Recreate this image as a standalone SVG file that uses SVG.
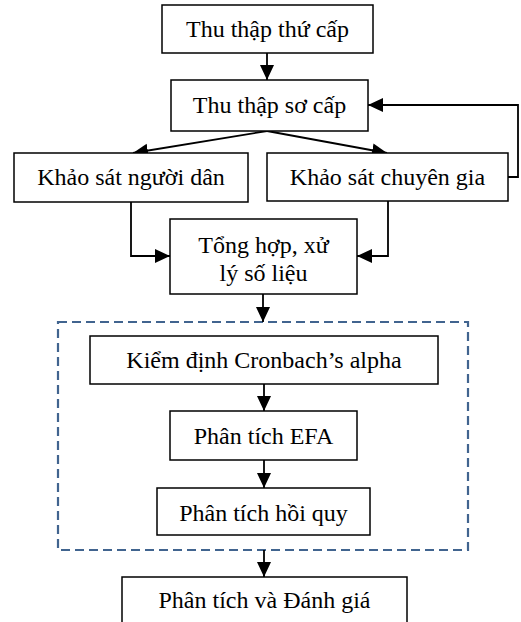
<svg xmlns="http://www.w3.org/2000/svg" width="521" height="622" viewBox="0 0 521 622">
<style>
.box{fill:#fff;stroke:#000;stroke-width:1.5}
.t{font-family:'Liberation Serif','Times New Roman',Times,serif;font-size:24px;fill:#000;text-anchor:middle}
.c{fill:none;stroke:#000;stroke-width:1.8}
.dash{fill:none;stroke:#41648F;stroke-width:2.2;stroke-dasharray:9 5}
</style>
<defs>
<marker id="ah" markerUnits="userSpaceOnUse" markerWidth="16" markerHeight="15" refX="15" refY="7" orient="auto">
<path d="M0,0 L15,7 L0,14 z" fill="#000"/>
</marker>
</defs>
<rect width="521" height="622" fill="#fff"/>
<g id="group-analysis"><rect class="dash" x="58" y="322" width="410" height="228"/></g>
<g id="connectors">
<line class="c" x1="267" y1="53" x2="267" y2="80" marker-end="url(#ah)"/>
<line class="c" x1="267" y1="131" x2="133" y2="153" marker-end="url(#ah)"/>
<line class="c" x1="267" y1="131" x2="387" y2="153" marker-end="url(#ah)"/>
<polyline class="c" points="508,177 518,177 518,105 368,105" marker-end="url(#ah)"/>
<polyline class="c" points="131,202 131,256 170,256" marker-end="url(#ah)"/>
<polyline class="c" points="388,201 388,256 357,256" marker-end="url(#ah)"/>
<line class="c" x1="263" y1="294" x2="263" y2="322" marker-end="url(#ah)"/>
<line class="c" x1="264" y1="384" x2="264" y2="411" marker-end="url(#ah)"/>
<line class="c" x1="264" y1="460" x2="264" y2="488" marker-end="url(#ah)"/>
<line class="c" x1="264" y1="550" x2="264" y2="577" marker-end="url(#ah)"/>
</g>
<g id="n1"><rect class="box" x="162" y="5" width="211" height="48"/><text class="t" x="267.5" y="37">Thu thập thứ cấp</text></g>
<g id="n2"><rect class="box" x="171" y="80" width="197" height="51"/><text class="t" x="269.5" y="113">Thu thập sơ cấp</text></g>
<g id="n3"><rect class="box" x="14" y="153" width="234" height="49"/><text class="t" x="131" y="185">Khảo sát người dân</text></g>
<g id="n4"><rect class="box" x="267" y="153" width="241" height="48"/><text class="t" x="387.5" y="185">Khảo sát chuyên gia</text></g>
<g id="n5"><rect class="box" x="170" y="219" width="187" height="75"/><text class="t" x="263.5" y="253">Tổng hợp, xử</text><text class="t" x="263.5" y="281">lý số liệu</text></g>
<g id="n6"><rect class="box" x="90" y="336" width="348" height="48"/><text class="t" x="264" y="368">Kiểm định Cronbach’s alpha</text></g>
<g id="n7"><rect class="box" x="170" y="411" width="187" height="49"/><text class="t" x="263.5" y="444">Phân tích EFA</text></g>
<g id="n8"><rect class="box" x="157" y="488" width="213" height="47"/><text class="t" x="263.5" y="521">Phân tích hồi quy</text></g>
<g id="n9"><rect class="box" x="122" y="577" width="285" height="60"/><text class="t" x="264.5" y="608">Phân tích và Đánh giá</text></g>
</svg>
